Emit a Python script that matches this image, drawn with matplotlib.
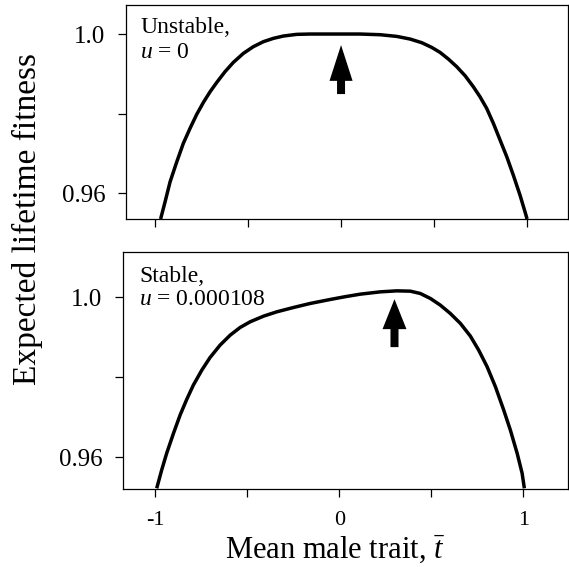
import matplotlib
matplotlib.use("Agg")
import matplotlib.pyplot as plt
from matplotlib.patches import FancyArrow

plt.rcParams['font.family'] = ['Liberation Serif', 'DejaVu Serif']
plt.rcParams['mathtext.fontset'] = 'custom'
plt.rcParams['mathtext.rm'] = 'Liberation Serif'
plt.rcParams['mathtext.it'] = 'Liberation Serif:italic'

# ---- data ----
top_x = [-0.970, -0.946, -0.919, -0.883, -0.848, -0.812, -0.776, -0.740, -0.704, -0.668,
         -0.624, -0.579, -0.525, -0.472, -0.418, -0.364, -0.310, -0.238, -0.167, -0.059,
         0.0, 0.102, 0.210, 0.299, 0.371, 0.434, 0.487, 0.532, 0.577, 0.622, 0.667,
         0.711, 0.747, 0.783, 0.819, 0.855, 0.891, 0.926, 0.962, 0.989, 1.0]
top_y = [0.9535, 0.95781, 0.96285, 0.96788, 0.97250, 0.97627, 0.97979, 0.98281, 0.98549, 0.98784,
         0.99052, 0.99287, 0.99514, 0.99681, 0.99807, 0.99891, 0.99950, 0.99992, 1.0, 1.0,
         1.0, 1.0, 0.99983, 0.99941, 0.99874, 0.99782, 0.99665, 0.99539, 0.99371, 0.99178, 0.98951,
         0.98675, 0.98423, 0.98130, 0.97753, 0.97333, 0.96913, 0.96453, 0.95950, 0.95530, 0.9535]

bot_x = [-0.991, -0.964, -0.937, -0.900, -0.864, -0.828, -0.792, -0.746, -0.701, -0.647,
         -0.592, -0.538, -0.484, -0.411, -0.339, -0.248, -0.158, -0.049, 0.030, 0.114,
         0.223, 0.313, 0.386, 0.440, 0.495, 0.549, 0.603, 0.658, 0.712, 0.757, 0.803,
         0.848, 0.893, 0.929, 0.966, 0.993, 1.005]
bot_y = [0.95217, 0.95675, 0.96092, 0.96592, 0.97050, 0.97442, 0.97800, 0.98175, 0.98492, 0.98800,
         0.99050, 0.99242, 0.99383, 0.99525, 0.99633, 0.99742, 0.99842, 0.99942, 1.00010, 1.00075,
         1.00133, 1.00158, 1.00150, 1.00092, 0.99967, 0.99800, 0.99592, 0.99342, 0.99025, 0.98675, 0.98258,
         0.97758, 0.97175, 0.96675, 0.96092, 0.95592, 0.95217]

x_ticks = [-1, -0.5, 0, 0.5, 1]
x_tick_labels = ['-1', '', '0', '', '1']
y_ticks = [0.96, 0.98, 1.0]
y_tick_labels = ['0.96', '', '1.0']

top_arrow = dict(x=0.0, tip=0.99723, base=0.98491)
bot_arrow = dict(x=0.30, tip=0.9995, base=0.9875)

fig = plt.figure(figsize=(5.69, 5.67), dpi=100)
W, H = 569.0, 567.0

def axes_px(l, t, r, b):
    return fig.add_axes([l / W, 1 - b / H, (r - l) / W, (b - t) / H])

ax1 = axes_px(126, 5, 568, 219)
ax2 = axes_px(123, 252, 568, 489)

ax1.set_xlim(-1.156, 1.22)
ax1.set_ylim(0.9535, 1.0073)
ax2.set_xlim(-1.174, 1.242)
ax2.set_ylim(0.952, 1.0113)

for ax in (ax1, ax2):
    for s in ax.spines.values():
        s.set_linewidth(0.9)
    ax.set_xticks(x_ticks)
    ax.set_yticks(y_ticks)
    ax.set_yticklabels(y_tick_labels)
    ax.tick_params(axis='both', direction='out', length=6, width=0.9)
    ax.tick_params(axis='y', labelsize=18, pad=9)

ax1.set_xticklabels([])
ax2.set_xticklabels(x_tick_labels)
ax2.tick_params(axis='x', labelsize=16, pad=10)

for ax, xs, ys in ((ax1, top_x, top_y), (ax2, bot_x, bot_y)):
    ax.plot(xs, ys, color='black', lw=2.5, solid_joinstyle='round',
            solid_capstyle='butt', clip_on=True)

def add_arrow(ax, a, head_w, stem_w, head_len):
    ax.add_patch(FancyArrow(a['x'], a['base'], 0, a['tip'] - a['base'],
                            width=stem_w, head_width=head_w, head_length=head_len,
                            length_includes_head=True, color='black', lw=0))

add_arrow(ax1, top_arrow, 0.124, 0.043, 0.0090)
add_arrow(ax2, bot_arrow, 0.13, 0.0435, 0.0075)

ax1.text(0.032, 0.869, 'Unstable,', transform=ax1.transAxes, fontsize=17, va='baseline')
ax1.text(0.032, 0.752, '$u$ = 0', transform=ax1.transAxes, fontsize=17, va='baseline')
ax2.text(0.036, 0.873, 'Stable,', transform=ax2.transAxes, fontsize=17, va='baseline')
ax2.text(0.036, 0.776, '$u$ = 0.000108', transform=ax2.transAxes, fontsize=17, va='baseline')

fig.text(27 / W, 1 - 219 / H, 'Expected lifetime fitness', rotation=90,
         ha='center', va='center', fontsize=24)
fig.text(335 / W, 1 - 558 / H, r'Mean male trait, $\bar{t}$', ha='center',
         va='baseline', fontsize=22)

fig.savefig('out.png', dpi=100)
